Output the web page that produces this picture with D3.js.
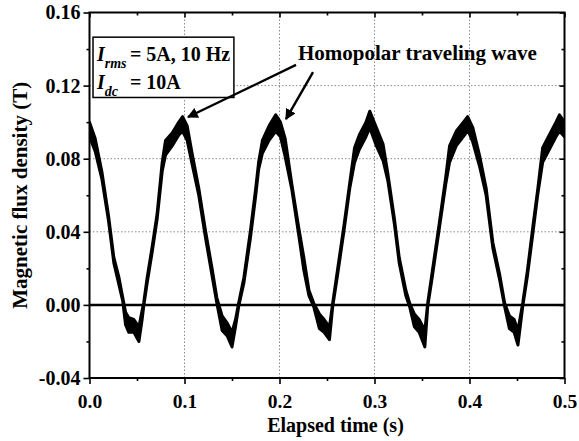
<!DOCTYPE html>
<html>
<head>
<meta charset="utf-8">
<script src="https://cdn.jsdelivr.net/npm/d3@7"></script>
<style>
  html, body { margin: 0; padding: 0; background: #fff; }
  svg { display: block; }
  text { font-family: "Liberation Serif", "Times New Roman", serif; font-weight: bold; fill: #000; }
</style>
</head>
<body>
<svg id="chart" width="579" height="441"></svg>
<script>
// ---- data ----
const time = [0, 0.006, 0.013, 0.020, 0.0256, 0.031, 0.035, 0.038, 0.0414, 0.0467, 0.052, 0.0554, 0.057, 0.0607, 0.066, 0.0712, 0.0765, 0.080, 0.087, 0.094, 0.098, 0.1028, 0.108, 0.115, 0.122, 0.129, 0.134, 0.1396, 0.145, 0.150, 0.1537, 0.157, 0.1625, 0.1695, 0.175, 0.178, 0.182, 0.189, 0.196, 0.201, 0.206, 0.213, 0.220, 0.2256, 0.231, 0.236, 0.242, 0.247, 0.2526, 0.256, 0.261, 0.268, 0.274, 0.279, 0.284, 0.291, 0.295, 0.302, 0.309, 0.314, 0.321, 0.326, 0.333, 0.337, 0.342, 0.347, 0.353, 0.356, 0.361, 0.368, 0.375, 0.379, 0.386, 0.395, 0.398, 0.4035, 0.4105, 0.4175, 0.4246, 0.4316, 0.437, 0.442, 0.447, 0.451, 0.456, 0.461, 0.4667, 0.472, 0.477, 0.484, 0.491, 0.4947, 0.500];
// upper and lower edge of the noisy trace (T)
const fluxHi = [0.100, 0.091, 0.073, 0.049, 0.026, 0.015, 0.004, -0.004, -0.007, -0.008, -0.012, -0.003, 0.001, 0.015, 0.032, 0.050, 0.078, 0.090, 0.094, 0.100, 0.103, 0.098, 0.083, 0.064, 0.041, 0.020, 0.004, -0.006, -0.010, -0.015, -0.008, 0.001, 0.015, 0.041, 0.064, 0.078, 0.090, 0.098, 0.104, 0.100, 0.091, 0.066, 0.043, 0.026, 0.008, 0.001, -0.005, -0.008, -0.012, 0.001, 0.019, 0.044, 0.067, 0.086, 0.093, 0.100, 0.106, 0.097, 0.088, 0.072, 0.047, 0.026, 0.008, 0.001, -0.005, -0.008, -0.014, 0.001, 0.019, 0.044, 0.070, 0.087, 0.095, 0.101, 0.103, 0.097, 0.082, 0.064, 0.034, 0.017, 0.001, -0.006, -0.008, -0.014, 0.001, 0.019, 0.043, 0.064, 0.086, 0.093, 0.100, 0.104, 0.100];
const fluxLo = [0.092, 0.084, 0.069, 0.046, 0.023, 0.011, 0.002, -0.011, -0.015, -0.015, -0.020, -0.008, -0.001, 0.012, 0.029, 0.047, 0.073, 0.082, 0.087, 0.093, 0.095, 0.090, 0.077, 0.060, 0.037, 0.016, 0.001, -0.014, -0.017, -0.023, -0.012, -0.001, 0.012, 0.037, 0.060, 0.074, 0.083, 0.090, 0.095, 0.092, 0.081, 0.063, 0.039, 0.019, 0.005, -0.001, -0.013, -0.015, -0.019, -0.001, 0.016, 0.041, 0.064, 0.078, 0.085, 0.092, 0.097, 0.087, 0.079, 0.068, 0.044, 0.023, 0.005, -0.001, -0.012, -0.015, -0.023, -0.001, 0.016, 0.041, 0.066, 0.078, 0.087, 0.093, 0.096, 0.089, 0.076, 0.060, 0.031, 0.014, -0.001, -0.013, -0.015, -0.022, -0.001, 0.016, 0.039, 0.061, 0.078, 0.085, 0.092, 0.095, 0.092];
const zeroLine = [0, 0];              // reference line value at t = 0 and t = 0.5
const xTicks = [0, 0.1, 0.2, 0.3, 0.4, 0.5];
const xMinorTicks = [0.05, 0.15, 0.25, 0.35, 0.45];
const yTicks = [-0.04, 0, 0.04, 0.08, 0.12, 0.16];
const yMinorTicks = [-0.02, 0.02, 0.06, 0.10, 0.14];
const xTitle = "Elapsed time (s)";
const yTitle = "Magnetic flux density (T)";
const annotationText = "Homopolar traveling wave";

// ---- layout ----
const W = 579, H = 441;
const m = { top: 12.5, right: 14.5, bottom: 63, left: 89.5 };
const x = d3.scaleLinear().domain([0, 0.5]).range([m.left, W - m.right]);
const y = d3.scaleLinear().domain([-0.04, 0.16]).range([H - m.bottom, m.top]);
const svg = d3.select("#chart");

// clip
svg.append("clipPath").attr("id", "clip").append("rect")
  .attr("x", x(0)).attr("y", y(0.16)).attr("width", x(0.5) - x(0)).attr("height", y(-0.04) - y(0.16));

// grid
const grid = svg.append("g").attr("stroke", "#8a8a8a").attr("stroke-width", 1).attr("stroke-dasharray", "1.5,2");
grid.selectAll("line.v").data(xTicks.filter(d => d > 0 && d < 0.5)).join("line")
  .attr("x1", d => x(d)).attr("x2", d => x(d)).attr("y1", y(0.16)).attr("y2", y(-0.04));
grid.selectAll("line.h").data(yTicks.filter(d => d > 0 && d < 0.16)).join("line")
  .attr("x1", x(0)).attr("x2", x(0.5)).attr("y1", d => y(d)).attr("y2", d => y(d));

// zero reference line
svg.append("line").attr("x1", x(0)).attr("x2", x(0.5)).attr("y1", y(zeroLine[0])).attr("y2", y(zeroLine[1]))
  .attr("stroke", "#000").attr("stroke-width", 2.5);

// waveform (noisy band)
const pts = time.map((t, i) => ({ t, hi: fluxHi[i], lo: fluxLo[i] }));
const area = d3.area().x(d => x(d.t)).y0(d => y(d.lo)).y1(d => y(d.hi));
svg.append("path").datum(pts).attr("clip-path", "url(#clip)")
  .attr("d", area).attr("fill", "#000").attr("stroke", "#000").attr("stroke-width", 3).attr("stroke-linejoin", "round");

// axes
function styleAxis(g, size) {
  g.select(".domain").remove();
  g.selectAll("line").attr("stroke", "#000").attr("stroke-width", 1.6);
  g.selectAll("text").style("font-size", (size || 20) + "px").style("font-weight", "bold")
    .style("font-family", "'Liberation Serif','Times New Roman',serif");
}
svg.append("g").attr("transform", `translate(0,${y(-0.04)})`)
  .call(d3.axisBottom(x).tickValues(xTicks).tickSize(6).tickSizeOuter(0).tickPadding(10).tickFormat(d => d.toFixed(1))).call(styleAxis, 19.5);
svg.append("g").attr("transform", `translate(0,${y(-0.04)})`)
  .call(d3.axisBottom(x).tickValues(xMinorTicks).tickSize(3).tickFormat("")).call(styleAxis);
svg.append("g").attr("transform", `translate(${x(0)},0)`)
  .call(d3.axisLeft(y).tickValues(yTicks).tickSize(6).tickSizeOuter(0).tickPadding(3).tickFormat(d => d.toFixed(2))).call(styleAxis);
svg.append("g").attr("transform", `translate(${x(0)},0)`)
  .call(d3.axisLeft(y).tickValues(yMinorTicks).tickSize(3).tickFormat("")).call(styleAxis);
// mirrored axes with inward ticks
svg.append("g").attr("transform", `translate(0,${y(0.16)})`)
  .call(d3.axisTop(x).tickValues(xTicks).tickSize(-5).tickFormat("")).call(styleAxis);
svg.append("g").attr("transform", `translate(0,${y(0.16)})`)
  .call(d3.axisTop(x).tickValues(xMinorTicks).tickSize(-3).tickFormat("")).call(styleAxis);
svg.append("g").attr("transform", `translate(${x(0.5)},0)`)
  .call(d3.axisRight(y).tickValues(yTicks).tickSize(-5).tickFormat("")).call(styleAxis);
svg.append("g").attr("transform", `translate(${x(0.5)},0)`)
  .call(d3.axisRight(y).tickValues(yMinorTicks).tickSize(-3).tickFormat("")).call(styleAxis);

// legend box (in data coordinates)
const lg = { t0: 0.0037, t1: 0.152, v0: 0.1465, v1: 0.1135 };
svg.append("rect").attr("x", x(lg.t0)).attr("y", y(lg.v0)).attr("width", x(lg.t1) - x(lg.t0)).attr("height", y(lg.v1) - y(lg.v0))
  .attr("fill", "#fff").attr("stroke", "#000").attr("stroke-width", 1.5);
function legendLine(baseV, sub, rest) {
  const t = svg.append("text").attr("x", x(0.0078)).attr("y", y(baseV)).style("font-size", "20px");
  t.append("tspan").text("I").style("font-style", "italic");
  t.append("tspan").text(sub).style("font-style", "italic").style("font-size", "14px").attr("dy", 7);
  t.append("tspan").text(rest).attr("x", x(0.0425)).attr("dy", -7);
}
legendLine(0.1335, "rms", "= 5A, 10 Hz");
legendLine(0.1182, "dc", "= 10A");

// frame
svg.append("rect").attr("x", x(0)).attr("y", y(0.16)).attr("width", x(0.5) - x(0)).attr("height", y(-0.04) - y(0.16))
  .attr("fill", "none").attr("stroke", "#000").attr("stroke-width", 2);

// annotation
svg.append("defs").append("marker").attr("id", "arrow").attr("viewBox", "0 0 10 10").attr("refX", 9).attr("refY", 5)
  .attr("markerWidth", 4.5).attr("markerHeight", 4.5).attr("orient", "auto").attr("markerUnits", "strokeWidth")
  .append("path").attr("d", "M0,0 L10,5 L0,10 z").attr("fill", "#000");
const arrows = [
  { t0: 0.2174, v0: 0.1313, t1: 0.1037, v1: 0.1028 },
  { t0: 0.2353, v0: 0.1274, t1: 0.2068, v1: 0.1017 }
];
svg.selectAll("line.arrow").data(arrows).join("line").attr("class", "arrow")
  .attr("x1", d => x(d.t0)).attr("y1", d => y(d.v0)).attr("x2", d => x(d.t1)).attr("y2", d => y(d.v1))
  .attr("stroke", "#000").attr("stroke-width", 2.4).attr("marker-end", "url(#arrow)");
svg.append("text").attr("x", x(0.2195)).attr("y", y(0.134)).style("font-size", "21px").text(annotationText);

// axis titles
svg.append("text").attr("x", (x(0) + x(0.5)) / 2 + 8.5).attr("y", 432).attr("text-anchor", "middle")
  .style("font-size", "20px").text(xTitle);
svg.append("text").attr("transform", `translate(27,${(y(-0.04) + y(0.16)) / 2}) rotate(-90)`).attr("text-anchor", "middle")
  .style("font-size", "21px").text(yTitle);
</script>
</body>
</html>
